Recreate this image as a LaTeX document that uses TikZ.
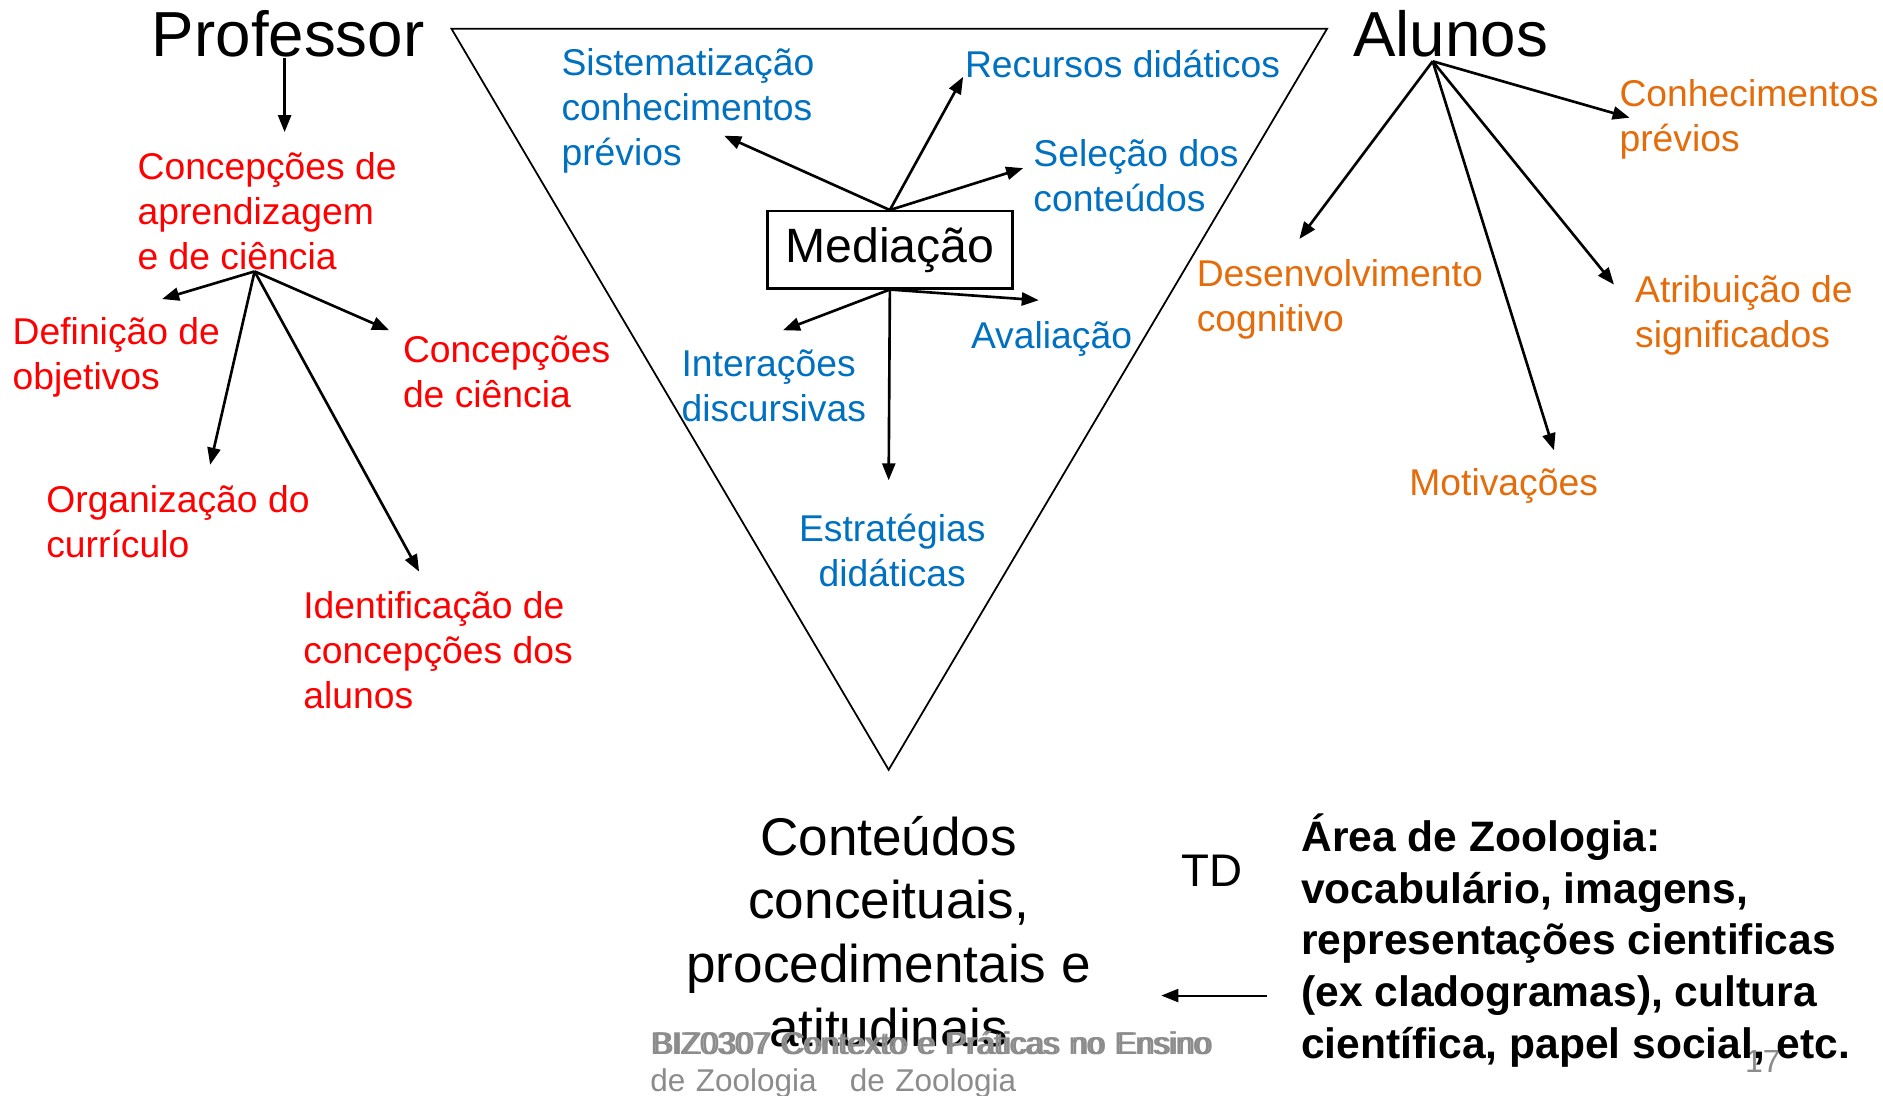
\documentclass[tikz,border=0pt]{standalone}
\usepackage{fontspec}
\setmainfont{Liberation Sans}
\usetikzlibrary{arrows.meta}
\definecolor{tdblue}{HTML}{0070C0}
\definecolor{tdred}{HTML}{FF0000}
\definecolor{tdorange}{HTML}{E46C0A}
\definecolor{tdgrey}{HTML}{8C8C8C}

\begin{document}
\begin{tikzpicture}[x=0.12mm, y=-0.12mm,
    >={Triangle[length=1.7mm,width=1.3mm]},
    arr/.style={->, line width=0.75pt},
    txt/.style={inner sep=0pt, anchor=west, align=left, font=\fontsize{10.6}{12.8}\selectfont},
    blu/.style={txt, text=tdblue},
    rd/.style={txt, text=tdred},
    org/.style={txt, text=tdorange},
    foot/.style={inner sep=0pt, anchor=north west, text width=56.5mm, text=tdgrey, font=\fontsize{8.95}{10.6}\selectfont}]
  \useasboundingbox (0,0) rectangle (1568,912);

  % Triangle
  \draw[line width=0.5pt] (376,24) -- (1105,24) -- (740,641) -- cycle;

  % Titles
  \node[inner sep=0pt, font=\fontsize{18.1}{21}\selectfont] (prof) at (240,28) {Professor};
  \node[inner sep=0pt, font=\fontsize{18.1}{21}\selectfont] (alunos) at (1208,28) {Alunos};
  \node[draw, line width=0.7pt, minimum width=24.5mm, minimum height=7.7mm, font=\fontsize{13.7}{16}\selectfont] (med) at (741,208) {Mediação};

  % Mediation
  \node[blu] (sist) at (467,92.5) {Sistematização\\conhecimentos\\prévios};
  \node[blu] (recur) at (803,53) {Recursos didáticos};
  \node[blu] (selec) at (860,146.5) {Seleção dos\\conteúdos};
  \node[blu] (aval) at (808,282) {Avaliação};
  \node[blu] (inter) at (567,321.5) {Interações\\discursivas};
  \node[blu, anchor=center, align=center] (estr) at (743,458.5) {Estratégias\\didáticas};

  % Teacher
  \node[rd] (concA) at (114,176) {Concepções de\\aprendizagem\\e de ciência};
  \node[rd] (defin) at (10,297.5) {Definição de\\objetivos};
  \node[rd] (concC) at (335,309.5) {Concepções\\de ciência};
  \node[rd] (organ) at (38,434.5) {Organização do\\currículo};
  \node[rd] (ident) at (252,541) {Identificação de\\concepções dos\\alunos};

  % Students
  \node[org] (conhec) at (1348,99.5) {Conhecimentos\\prévios};
  \node[org] (desenv) at (996,249.5) {Desenvolvimento\\cognitivo};
  \node[org] (atrib) at (1361,262.5) {Atribuição de\\significados};
  \node[org] (motiv) at (1173,405) {Motivações};

  % Contents
  \node[inner sep=0pt, align=center, font=\fontsize{15.1}{18.1}\selectfont] (cont) at (740,775.5) {Conteúdos\\conceituais,\\procedimentais e\\atitudinais};
  \node[inner sep=0pt, font=\fontsize{13}{15}\selectfont] (td) at (1009,725) {TD};
  \node[inner sep=0pt, text=tdgrey, font=\fontsize{9.1}{11}\selectfont] (pgno) at (1468,884) {17};
  \node[txt, font=\fontsize{12.1}{14.7}\selectfont\bfseries] (area) at (1083,783) {Área de Zoologia:\\vocabulário, imagens,\\representações cientificas\\(ex cladogramas), cultura\\científica, papel social, etc.};

  % Footer
  \node[foot, align=left] (footA) at (541,858) {BIZ0307 Contexto e Práticas no Ensino\\de Zoologia};
  \node[foot, align=center] (footB) at (541,858) {BIZ0307 Contexto e Práticas no Ensino\\de Zoologia};

  % Arrow tips
  \coordinate (profTip) at (237,110);
  \coordinate (concHub) at (212,226);
  \coordinate (tDef) at (135,249);
  \coordinate (tConcC) at (324,275);
  \coordinate (tOrg) at (175,387);
  \coordinate (tIdent) at (349,476);
  \coordinate (tSist) at (603,113);
  \coordinate (tRec) at (802,64);
  \coordinate (tSel) at (852,140);
  \coordinate (tInter) at (652,275);
  \coordinate (tAval) at (865,250);
  \coordinate (tEstr) at (740,400);
  \coordinate (alunosHub) at (1193,51);
  \coordinate (tConhec) at (1357,98);
  \coordinate (tDesenv) at (1082,199);
  \coordinate (tAtrib) at (1344,237);
  \coordinate (tMotiv) at (1294,375);
  \coordinate (tCont) at (967,829);

  % Arrows
  \draw[arr] (prof.south -| profTip) -- (profTip);
  \foreach \t in {tDef, tConcC, tOrg, tIdent} \draw[arr] (concHub) -- (\t);
  \foreach \t in {tSist, tRec, tSel} \draw[arr] (med.north) -- (\t);
  \foreach \t in {tInter, tAval, tEstr} \draw[arr] (med.south) -- (\t);
  \foreach \t in {tConhec, tDesenv, tAtrib, tMotiv} \draw[arr] (alunosHub) -- (\t);
  \draw[arr, line width=0.6pt, shorten <=3.4mm] (area.west |- tCont) -- (tCont);
\end{tikzpicture}
\end{document}
